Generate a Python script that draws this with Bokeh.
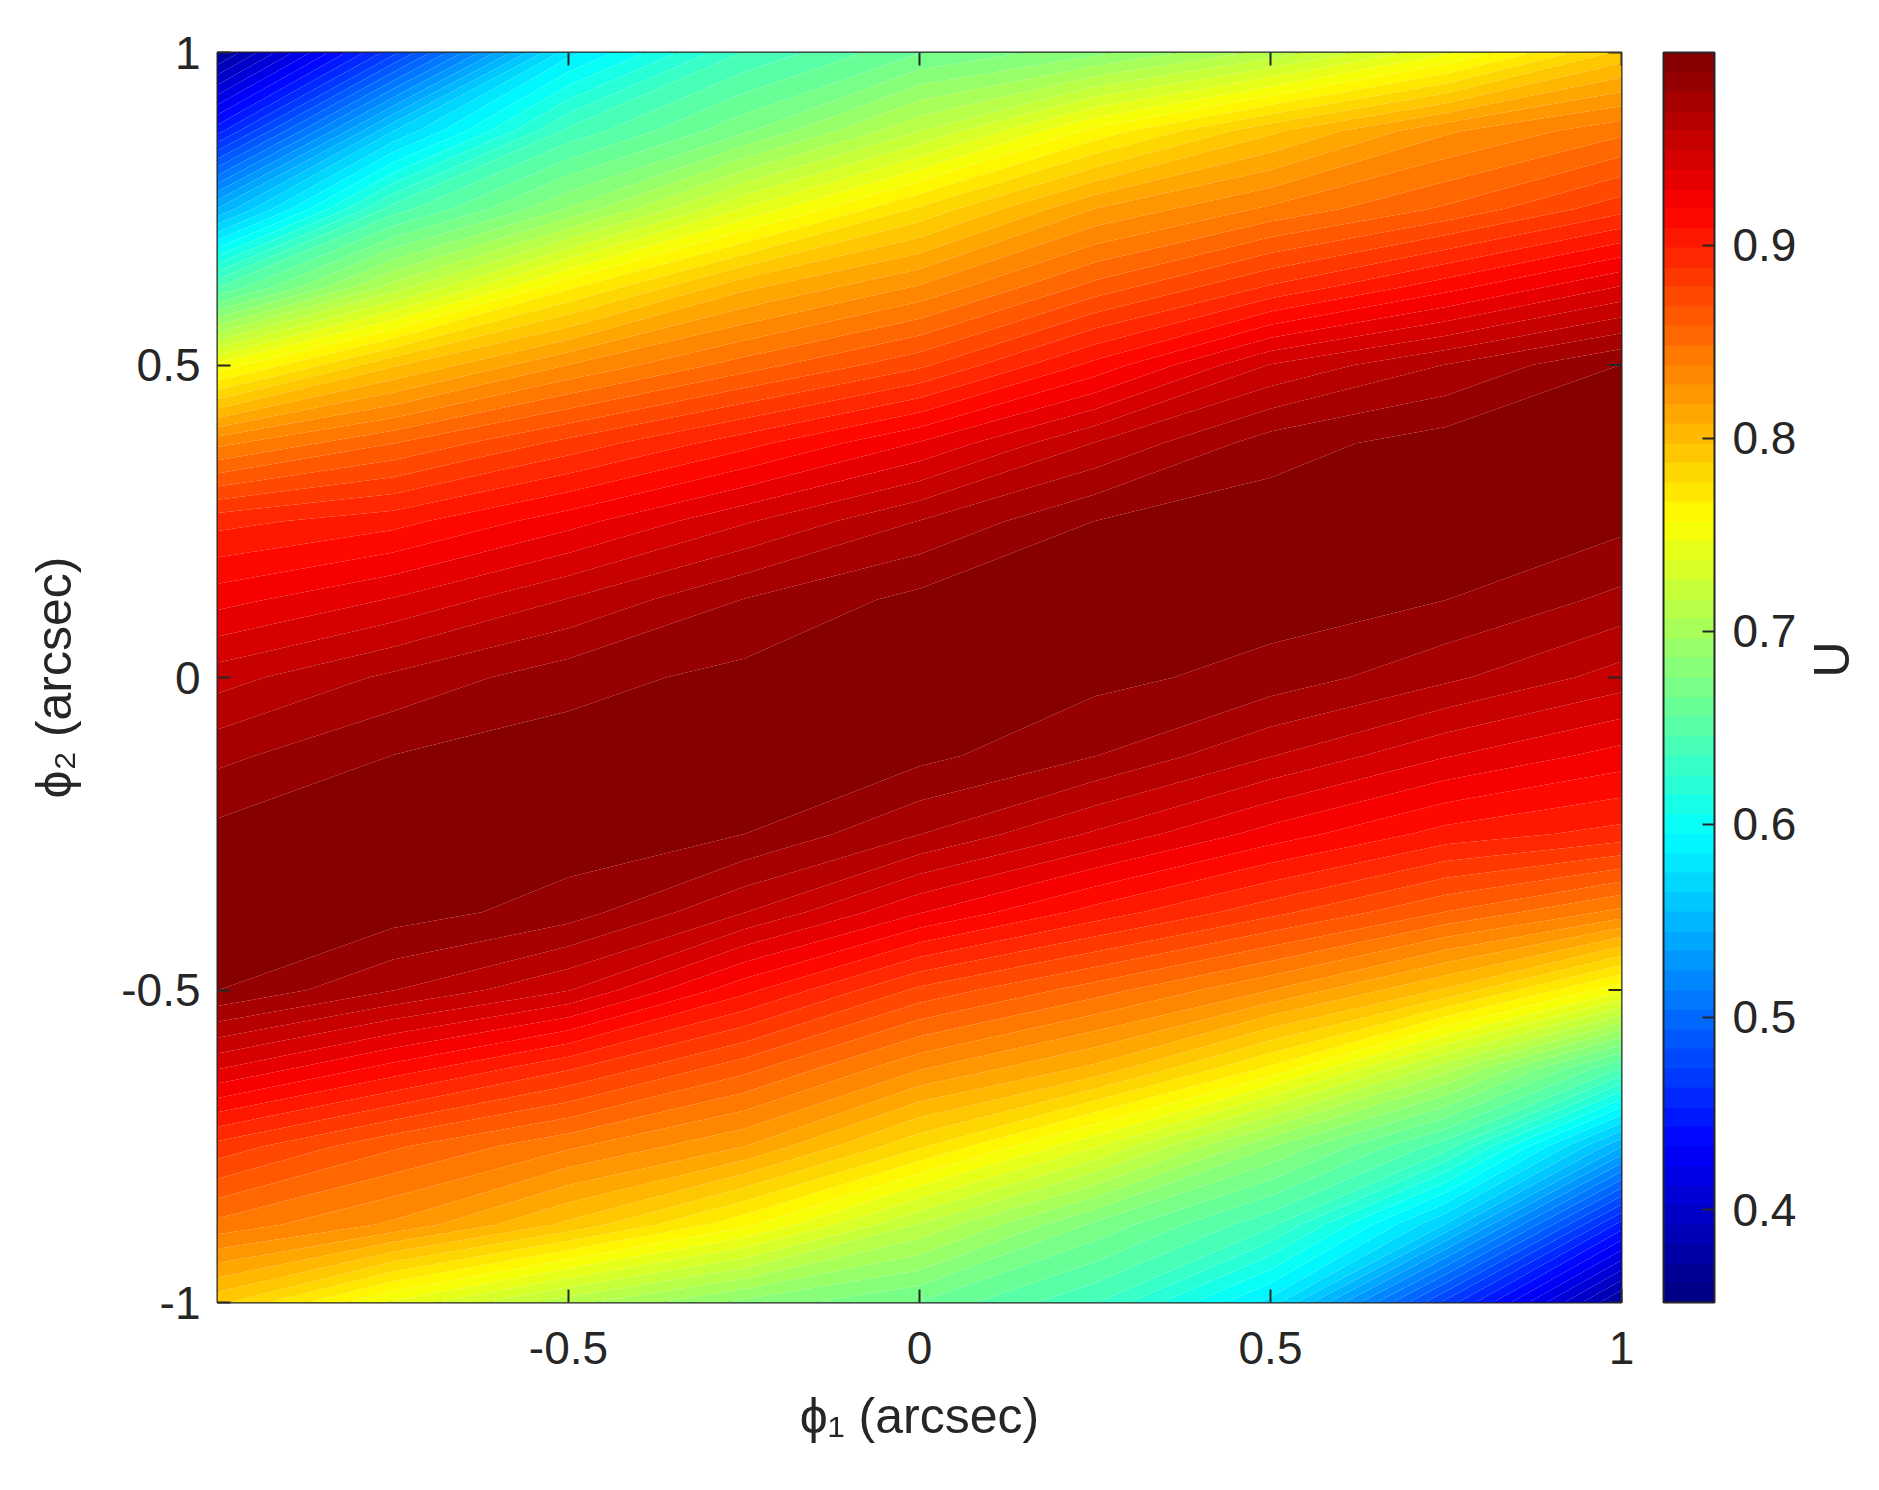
import numpy as np
from bokeh.plotting import figure
from bokeh.models import LinearColorMapper, ColorBar, FixedTicker, LinearAxis, Range1d
from bokeh.embed import file_html
from bokeh.resources import INLINE

# ---------------- data ----------------
PHI1 = [-1.0, -0.75, -0.5, -0.25, 0.0, 0.25, 0.5, 0.75, 1.0]
PHI2 = [-1.0, -0.875, -0.75, -0.625, -0.5, -0.375, -0.25, -0.125, 0.0,
        0.125, 0.25, 0.375, 0.5, 0.625, 0.75, 0.875, 1.0]

# U along phi1 (PHI1 order) for each phi2 row
U_PHI2_M1000 = [0.790, 0.745, 0.710, 0.683, 0.665, 0.636, 0.581, 0.470, 0.370]
U_PHI2_M0875 = [0.845, 0.826, 0.795, 0.760, 0.716, 0.674, 0.638, 0.564, 0.449]
U_PHI2_M0750 = [0.885, 0.860, 0.840, 0.818, 0.779, 0.738, 0.687, 0.640, 0.545]
U_PHI2_M0625 = [0.940, 0.915, 0.890, 0.862, 0.829, 0.805, 0.765, 0.711, 0.645]
U_PHI2_M0500 = [0.990, 0.970, 0.950, 0.912, 0.876, 0.853, 0.828, 0.796, 0.750]
U_PHI2_M0375 = [0.996, 0.995, 0.985, 0.960, 0.930, 0.905, 0.882, 0.858, 0.835]
U_PHI2_M0250 = [0.993, 0.996, 0.996, 0.990, 0.970, 0.948, 0.925, 0.905, 0.895]
U_PHI2_M0125 = [0.977, 0.990, 0.995, 0.996, 0.993, 0.980, 0.960, 0.940, 0.925]
U_PHI2_P0000 = [0.955, 0.972, 0.986, 0.993, 0.996, 0.993, 0.986, 0.972, 0.955]
U_PHI2_P0125 = [0.925, 0.940, 0.960, 0.980, 0.993, 0.996, 0.995, 0.990, 0.977]
U_PHI2_P0250 = [0.895, 0.905, 0.925, 0.948, 0.970, 0.990, 0.996, 0.996, 0.993]
U_PHI2_P0375 = [0.835, 0.858, 0.882, 0.905, 0.930, 0.960, 0.985, 0.995, 0.996]
U_PHI2_P0500 = [0.750, 0.796, 0.828, 0.853, 0.876, 0.912, 0.950, 0.970, 0.990]
U_PHI2_P0625 = [0.645, 0.711, 0.765, 0.805, 0.829, 0.862, 0.890, 0.915, 0.940]
U_PHI2_P0750 = [0.545, 0.640, 0.687, 0.738, 0.779, 0.818, 0.840, 0.860, 0.885]
U_PHI2_P0875 = [0.449, 0.564, 0.638, 0.674, 0.716, 0.760, 0.795, 0.826, 0.845]
U_PHI2_P1000 = [0.370, 0.470, 0.581, 0.636, 0.665, 0.683, 0.710, 0.745, 0.790]

U_MIN, U_MAX = 0.352, 1.0
N_LEVELS = 64

X_TICKS = [-0.5, 0.0, 0.5, 1.0]
X_TICK_LABELS = ["-0.5", "0", "0.5", "1"]
Y_TICKS = [-1.0, -0.5, 0.0, 0.5, 1.0]
Y_TICK_LABELS = ["-1", "-0.5", "0", "0.5", "1"]
CB_TICKS = [0.4, 0.5, 0.6, 0.7, 0.8, 0.9]

X_LABEL = "\u03d5\u2081 (arcsec)"
Y_LABEL = "\u03d5\u2082 (arcsec)"
CB_LABEL = "U"

# ---------------- styling ----------------
FONT = "Liberation Sans"
INK = "#262626"
TICK_FS = "46px"
LABEL_FS = "50px"


def jet(n):
    f = (np.arange(n) + 0.5) / n
    r = np.clip(1.5 - np.abs(4 * f - 3), 0, 1)
    g = np.clip(1.5 - np.abs(4 * f - 2), 0, 1)
    b = np.clip(1.5 - np.abs(4 * f - 1), 0, 1)
    return ["#%02x%02x%02x" % (int(round(255 * a)), int(round(255 * c)), int(round(255 * d)))
            for a, c, d in zip(r, g, b)]


palette = jet(N_LEVELS)
levels = np.linspace(U_MIN, U_MAX, N_LEVELS + 1)

Z = np.array([U_PHI2_M1000, U_PHI2_M0875, U_PHI2_M0750, U_PHI2_M0625, U_PHI2_M0500,
              U_PHI2_M0375, U_PHI2_M0250, U_PHI2_M0125, U_PHI2_P0000, U_PHI2_P0125,
              U_PHI2_P0250, U_PHI2_P0375, U_PHI2_P0500, U_PHI2_P0625, U_PHI2_P0750,
              U_PHI2_P0875, U_PHI2_P1000])

p = figure(frame_width=1404, frame_height=1250,
           x_range=Range1d(-1, 1), y_range=Range1d(-1, 1),
           output_backend="svg", toolbar_location=None,
           min_border_left=217, min_border_top=52, min_border_bottom=188, min_border_right=258,
           background_fill_color="white", border_fill_color="white")
p.grid.visible = False
p.outline_line_color = INK
p.outline_line_width = 2

cr = p.contour(np.array(PHI1), np.array(PHI2), Z, levels, fill_color=palette)
g = cr.fill_renderer.glyph
g.line_color = g.fill_color
g.line_width = 1

# inward tick marks on the top and right edges (half of each dash is clipped by the frame)
x_edge = p.x_range.end
y_edge = p.y_range.end
p.scatter(x=X_TICKS, y=[y_edge] * len(X_TICKS), marker="dash", size=26, angle=np.pi / 2,
          line_color=INK, line_width=2)
p.scatter(x=[x_edge] * len(Y_TICKS), y=Y_TICKS, marker="dash", size=26, angle=0,
          line_color=INK, line_width=2)


def style_axis(ax, ticks, labels):
    ax.ticker = FixedTicker(ticks=ticks)
    ax.major_label_overrides = {float(t): s for t, s in zip(ticks, labels)}
    ax.major_tick_in = 13
    ax.major_tick_out = 0
    ax.minor_tick_line_color = None
    ax.major_tick_line_color = INK
    ax.major_tick_line_width = 2
    ax.axis_line_color = None
    ax.major_label_text_font = FONT
    ax.major_label_text_color = INK
    ax.major_label_text_font_size = TICK_FS
    ax.axis_label_text_font = FONT
    ax.axis_label_text_font_size = LABEL_FS
    ax.axis_label_text_font_style = "normal"
    ax.axis_label_text_color = INK


xa = p.xaxis[0]
style_axis(xa, X_TICKS, X_TICK_LABELS)
xa.major_label_standoff = 29
xa.axis_label = X_LABEL
xa.axis_label_standoff = 21

ya = p.yaxis[0]
style_axis(ya, Y_TICKS, Y_TICK_LABELS)
ya.major_label_standoff = 17
ya.axis_label = Y_LABEL
ya.axis_label_standoff = 36

mapper = LinearColorMapper(palette=palette, low=U_MIN, high=U_MAX)
cb = ColorBar(color_mapper=mapper, ticker=FixedTicker(ticks=CB_TICKS),
              width=51, height=1250, padding=0, margin=0, location=(42, 0),
              major_label_text_font=FONT, major_label_text_font_size=TICK_FS,
              major_label_text_color=INK, label_standoff=18,
              major_tick_in=12, major_tick_out=0, major_tick_line_color=INK,
              major_tick_line_width=2, minor_tick_line_color=None,
              bar_line_color=INK, bar_line_width=2,
              border_line_color=None, background_fill_color="white")
p.add_layout(cb, "right")

# colour-bar title "U", as the label of a tick-less axis placed after the colour bar
u_ax = LinearAxis(ticker=FixedTicker(ticks=[]), axis_label=CB_LABEL, bounds=(-1.0, 0.925),
                  axis_line_color=None, major_tick_line_color=None, minor_tick_line_color=None,
                  axis_label_text_font=FONT, axis_label_text_font_size=LABEL_FS,
                  axis_label_text_font_style="normal", axis_label_text_align="center",
                  axis_label_text_color=INK, axis_label_standoff=32)
if "axis_label_orientation" in u_ax.properties():
    u_ax.axis_label_orientation = np.pi / 2
p.add_layout(u_ax, "right")

open("out.html", "w").write(file_html(p, INLINE))
